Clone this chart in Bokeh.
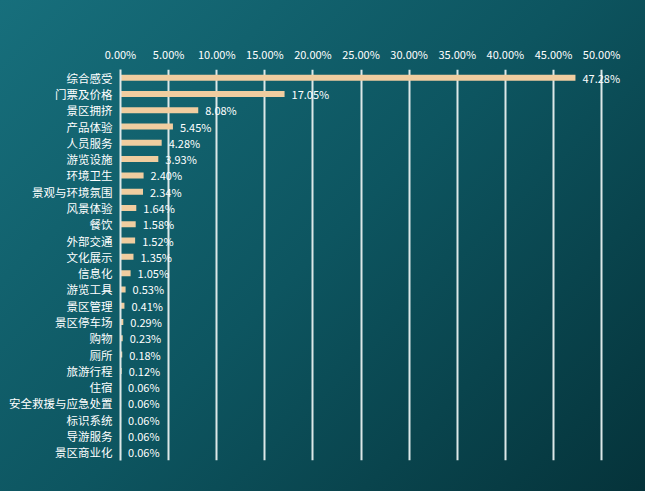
from bokeh.plotting import figure
from bokeh.models import ColumnDataSource, FactorRange, Range1d, FixedTicker, PrintfTickFormatter, LinearAxis, GlobalInlineStyleSheet
from bokeh.core.properties import value
from bokeh.embed import file_html
from bokeh.resources import INLINE

categories = ["综合感受", "门票及价格", "景区拥挤", "产品体验", "人员服务", "游览设施",
              "环境卫生", "景观与环境氛围", "风景体验", "餐饮", "外部交通", "文化展示",
              "信息化", "游览工具", "景区管理", "景区停车场", "购物", "厕所", "旅游行程",
              "住宿", "安全救援与应急处置", "标识系统", "导游服务", "景区商业化"]
values = [47.28, 17.05, 8.08, 5.45, 4.28, 3.93, 2.40, 2.34, 1.64, 1.58, 1.52, 1.35,
          1.05, 0.53, 0.41, 0.29, 0.23, 0.18, 0.12, 0.06, 0.06, 0.06, 0.06, 0.06]
x_ticks = [0, 5, 10, 15, 20, 25, 30, 35, 40, 45, 50]

FONT = "Noto Sans CJK SC"

src = ColumnDataSource(dict(
    cat=categories,
    val=values,
    lbl=["%.2f%%" % v for v in values],
))

p = figure(width=645, height=491, output_backend="svg", toolbar_location=None,
           y_range=FactorRange(factors=list(reversed(categories))),
           x_range=Range1d(0, 53), x_axis_location=None,
           min_border_left=120, min_border_top=69, min_border_bottom=31, min_border_right=15)

p.background_fill_alpha = 0
p.border_fill_alpha = 0
p.outline_line_color = None

p.stylesheets = [GlobalInlineStyleSheet(css="html{min-height:100%;background:linear-gradient(135deg,#176f7c 0%,#0d5560 50%,#05333a 100%) fixed;} body{background:transparent;}")]

# top axis
xa = LinearAxis(ticker=FixedTicker(ticks=x_ticks), formatter=PrintfTickFormatter(format="%.2f%%"))
xa.axis_line_color = None
xa.major_tick_line_color = None
xa.minor_tick_line_color = None
xa.major_label_text_color = "white"
xa.major_label_text_font = FONT
xa.major_label_text_font_size = "11px"
xa.major_label_standoff = 2
p.add_layout(xa, "above")

p.xgrid.ticker = FixedTicker(ticks=x_ticks)
p.xgrid.grid_line_color = "#dce8e8"
p.xgrid.grid_line_width = 2
p.ygrid.grid_line_color = None

ya = p.yaxis[0]
ya.axis_line_color = "#dce8e8"
ya.axis_line_width = 2
ya.major_tick_line_color = None
ya.minor_tick_line_color = None
ya.major_label_text_color = "white"
ya.major_label_text_font = FONT
ya.major_label_text_font_size = "11.5px"
ya.major_label_standoff = 2

p.hbar(y="cat", right="val", left=0, height=0.37, source=src,
       fill_color="#f0cda0", line_color=None)

p.text(x="val", y="cat", text="lbl", source=src, x_offset=7,
       text_color="white", text_font=value(FONT), text_font_size="11px",
       text_baseline="middle", text_align="left")

open("out.html", "w").write(file_html(p, INLINE))
